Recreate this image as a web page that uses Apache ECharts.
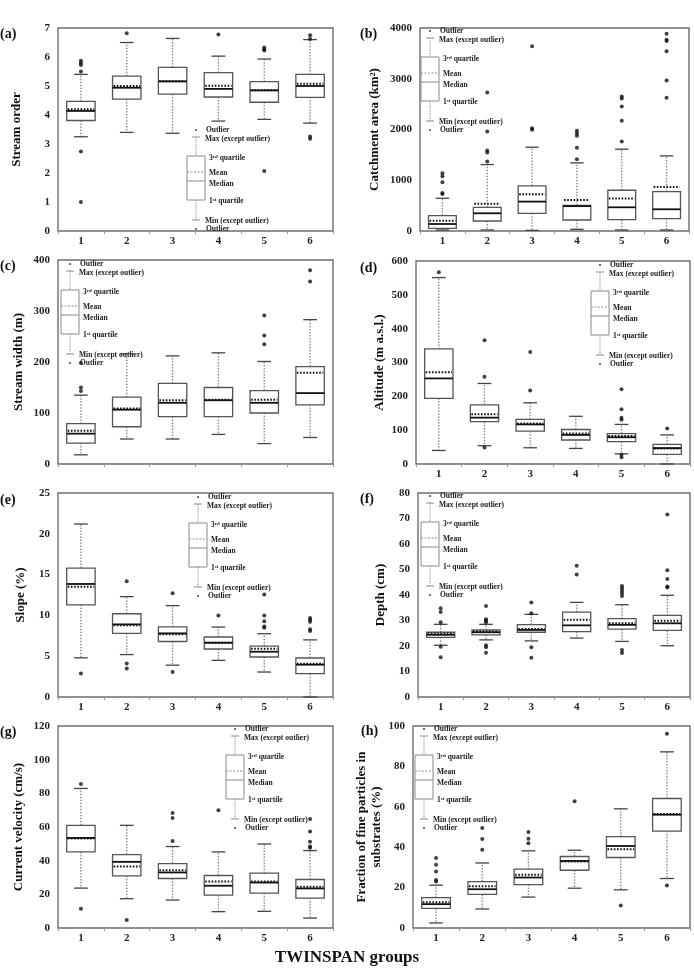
<!DOCTYPE html>
<html>
<head>
<meta charset="utf-8">
<script src="https://cdn.jsdelivr.net/npm/echarts@6/dist/echarts.min.js"></script>
<style>
  html, body { margin: 0; padding: 0; background: #fff; }
  #chart { width: 694px; height: 970px; }
</style>
</head>
<body>
<div id="chart"></div>
<script>
const groups = ['1', '2', '3', '4', '5', '6'];

// box rows: [min (except outlier), 1st quartile, median, 3rd quartile, max (except outlier)]
const orderBox = [[3.25, 3.81, 4.14, 4.47, 5.40], [3.40, 4.55, 4.94, 5.34, 6.50], [3.37, 4.72, 5.16, 5.64, 6.64],
                  [3.79, 4.62, 4.90, 5.46, 6.03], [3.85, 4.44, 4.85, 5.15, 5.93], [3.72, 4.61, 5.00, 5.40, 6.60]];
const orderMean = [4.20, 5.00, 5.16, 5.01, 4.85, 5.08];
const orderOut = [[0, 5.87], [0, 5.79], [0, 5.72], [0, 5.50], [0, 2.74], [0, 1.00], [1, 6.82], [3, 6.78],
                  [4, 6.33], [4, 6.27], [4, 6.22], [4, 2.07], [5, 6.75], [5, 6.62], [5, 3.26], [5, 3.18]];

const areaBox = [[20, 53, 138, 303, 645], [20, 197, 349, 467, 1309], [13, 349, 579, 888, 1651],
                 [33, 217, 490, 505, 1342], [20, 224, 467, 803, 1612], [20, 243, 428, 776, 1480]];
const areaMean = [204, 539, 724, 612, 638, 868];
const areaOut = [[0, 1140], [0, 1080], [0, 960], [0, 750], [0, 730], [1, 2730], [1, 1960], [1, 1585], [1, 1546], [1, 1368],
                 [2, 3638], [2, 2026], [2, 1993], [3, 1973], [3, 1928], [3, 1875], [3, 1638], [3, 1414],
                 [4, 2651], [4, 2612], [4, 2454], [4, 2171], [4, 1763], [5, 3888], [5, 3770], [5, 3743], [5, 3540], [5, 2967], [5, 2625]];

const widthBox = [[18, 41, 59.5, 79, 135], [49, 73, 106.5, 131, 216], [49, 93, 120, 158, 212],
                  [58, 93, 125, 150, 218], [40, 100, 120, 144, 201], [52, 116, 139, 191, 283]];
const widthMean = [65, 109, 125, 126, 126, 179];
const widthOut = [[0, 198], [0, 150], [0, 143], [4, 291], [4, 252], [4, 235], [5, 380], [5, 358]];

const altBox = [[40, 194, 253, 340, 551], [54, 125, 137, 175, 238], [48, 97, 117, 132, 181],
                [46, 71, 86, 102, 141], [30, 66, 79, 90, 117], [0, 28.5, 47, 58, 86]];
const altMean = [271, 147, 120, 90, 83, 46];
const altOut = [[0, 567], [1, 366], [1, 258], [1, 49], [2, 331], [2, 217],
                [4, 221], [4, 162], [4, 137], [4, 131], [4, 27], [4, 20], [5, 105]];

const slopeBox = [[4.8, 11.3, 13.85, 15.8, 21.2], [5.2, 7.8, 8.9, 10.2, 12.3], [3.9, 6.8, 7.8, 8.6, 11.2],
                  [4.49, 5.88, 6.65, 7.35, 8.57], [3.06, 4.9, 5.55, 6.24, 7.76], [0, 2.86, 3.96, 4.78, 7.0]];
const slopeMean = [13.5, 8.8, 7.7, 6.65, 5.9, 4.08];
const slopeOut = [[0, 2.87], [1, 14.2], [1, 4.1], [1, 3.5], [2, 12.7], [2, 3.06], [3, 10.0],
                  [4, 12.57], [4, 10.0], [4, 9.27], [4, 8.65], [4, 8.5], [5, 9.67], [5, 9.47], [5, 9.22], [5, 8.29], [5, 8.08]];

const depthBox = [[20.3, 23.4, 24.4, 25.4, 28.5], [22.4, 24.4, 25.4, 26.3, 28.5], [22, 25.4, 26.3, 28.4, 32.4],
                  [23.1, 25.6, 28.1, 33.3, 37.1], [21.8, 26.6, 28.3, 30.7, 36.2], [20.1, 26.1, 28.9, 32, 39.9]];
const depthMean = [24.8, 25.8, 26.7, 30.3, 28.9, 29.9];
const depthOut = [[0, 34.8], [0, 33.3], [0, 29.3], [0, 19.7], [0, 15.6],
                  [1, 35.7], [1, 30.5], [1, 29.9], [1, 29.3], [1, 20.3], [1, 19.5], [1, 17.4],
                  [2, 37.1], [2, 32.8], [2, 19.5], [2, 15.4], [3, 51.5], [3, 48],
                  [4, 43.5], [4, 42.6], [4, 41.7], [4, 40.7], [4, 39.6], [4, 18.4], [4, 17.3],
                  [5, 71.6], [5, 49.7], [5, 46.3], [5, 43.3], [5, 42.9]];

const velBox = [[23.7, 45.2, 53.5, 61, 82.9], [17.4, 31, 39.3, 43.6, 61], [16.6, 29.4, 33, 38.3, 48.4],
                [9.7, 19.5, 25.1, 31.2, 45.2], [9.9, 20.7, 27, 32.6, 49.9], [5.9, 17.8, 23.5, 28.8, 46]];
const velMean = [53.1, 36.5, 34.3, 27.6, 27.6, 24.5];
const velOut = [[0, 85.5], [0, 11.4], [1, 4.7], [2, 68.3], [2, 65.3], [2, 51.7], [3, 70],
                [5, 64.7], [5, 57.4], [5, 51.3], [5, 48.4], [5, 47.6]];

const fineBox = [[2.5, 9.7, 11.8, 15, 21.2], [9.4, 16.6, 19.2, 23, 32.2], [15.3, 21.5, 25, 29.1, 38.2],
                 [19.7, 28.6, 33.2, 35.4, 38.5], [18.9, 34.9, 40.6, 45.2, 59], [24.5, 48, 56.1, 64.1, 87.2]];
const fineMean = [12.7, 20.7, 26.3, 32.9, 39, 56.4];
const fineOut = [[0, 34.7], [0, 31.3], [0, 28], [0, 23.8], [0, 23], [1, 49.5], [1, 44.1], [1, 38.7],
                 [2, 47.5], [2, 44.2], [2, 41.9], [3, 62.8], [4, 11.2], [5, 96.2], [5, 21]];

const SERIF = '"Liberation Serif", "Times New Roman", serif';

const panels = [
  { tag: '(a)', title: 'Stream order', box: orderBox, mean: orderMean, out: orderOut, max: 7, step: 1,
    grid: [58, 28, 275, 203], gap: 34, key: [196, 130], tagAt: [0, 34] },
  { tag: '(b)', title: 'Catchment area (km²)', box: areaBox, mean: areaMean, out: areaOut, max: 4000, step: 1000,
    grid: [420, 28, 269, 203], gap: 38, key: [430, 31], tagAt: [360, 34] },
  { tag: '(c)', title: 'Stream width (m)', box: widthBox, mean: widthMean, out: widthOut, max: 400, step: 100,
    grid: [58, 260, 275, 204], gap: 32, key: [70, 264], tagAt: [0, 266], noX: true },
  { tag: '(d)', title: 'Altitude (m a.s.l.)', box: altBox, mean: altMean, out: altOut, max: 600, step: 100,
    grid: [416, 261, 274, 203], gap: 29, key: [600, 265], tagAt: [360, 268] },
  { tag: '(e)', title: 'Slope (%)', box: slopeBox, mean: slopeMean, out: slopeOut, max: 25, step: 5,
    grid: [58, 493, 275, 204], gap: 30, key: [198, 497], tagAt: [0, 500] },
  { tag: '(f)', title: 'Depth (cm)', box: depthBox, mean: depthMean, out: depthOut, max: 80, step: 10,
    grid: [418, 493, 272, 204], gap: 30, key: [430, 496], tagAt: [360, 499] },
  { tag: '(g)', title: 'Current velocity (cm/s)', box: velBox, mean: velMean, out: velOut, max: 120, step: 20,
    grid: [58, 726, 275, 202], gap: 32, key: [235, 729], tagAt: [0, 732] },
  { tag: '(h)', title: 'Fraction of fine particles in\nsubstrates (%)', box: fineBox, mean: fineMean, out: fineOut, max: 100, step: 20,
    grid: [413, 726, 277, 202], gap: 22, key: [424, 729], tagAt: [361, 731] }
];

function drawBox(params, api) {
  const i = api.value(0);
  const x = api.coord([i, 0])[0];
  const band = api.size([1, 0])[0];
  const half = band * 0.31;
  const cap = band * 0.15;
  const y = k => api.coord([i, api.value(k)])[1];
  const yMin = y(1), yQ1 = y(2), yMed = y(3), yQ3 = y(4), yMax = y(5), yMean = y(6);
  const seg = (x1, y1, x2, y2, style) => ({ type: 'line', shape: { x1, y1, x2, y2 }, style });
  const whisker = { stroke: '#8c8c8c', lineWidth: 1.4, lineDash: [1.5, 1.5] };
  const capLine = { stroke: '#444', lineWidth: 1.3 };
  return {
    type: 'group',
    children: [
      seg(x, yQ3, x, yMax, whisker),
      seg(x, yQ1, x, yMin, whisker),
      seg(x - cap, yMax, x + cap, yMax, capLine),
      seg(x - cap, yMin, x + cap, yMin, capLine),
      { type: 'rect', shape: { x: x - half, y: yQ3, width: 2 * half, height: yQ1 - yQ3 },
        style: { fill: '#fff', stroke: '#555', lineWidth: 1.3 } },
      seg(x - half, yMed, x + half, yMed, { stroke: '#111', lineWidth: 1.8 }),
      seg(x - half + 1, yMean, x + half - 1, yMean, { stroke: '#111', lineWidth: 2, lineDash: [1.6, 1.6] })
    ]
  };
}

const keyRich = {
  n: { fontFamily: SERIF, fontWeight: 'bold', fontSize: 7.5, fill: '#222' },
  s: { fontFamily: SERIF, fontWeight: 'bold', fontSize: 5, fill: '#222', verticalAlign: 'top' }
};

// the little box-plot key drawn inside each panel
function keyGlyph(cx, top) {
  const gray = '#8a8a8a';
  const seg = (x1, y1, x2, y2, dash) => ({ type: 'line', shape: { x1, y1, x2, y2 },
    style: { stroke: gray, lineWidth: 1, lineDash: dash || null } });
  const dot = yy => ({ type: 'circle', shape: { cx: 0, cy: yy, r: 1 }, style: { fill: '#444' } });
  const label = (x, yy, text) => ({ type: 'text', x, y: yy,
    style: { text, rich: keyRich, verticalAlign: 'middle', align: 'left' } });
  return {
    type: 'group', x: cx, y: top, silent: true,
    children: [
      dot(0),
      seg(-4, 7, 4, 7),
      seg(0, 7, 0, 26, [1.2, 1.2]),
      { type: 'rect', shape: { x: -9, y: 26, width: 18, height: 44 }, style: { fill: '#fff', stroke: gray, lineWidth: 1 } },
      seg(-9, 42, 9, 42, [2, 1.5]),
      seg(-9, 51, 9, 51),
      seg(0, 70, 0, 90, [1.2, 1.2]),
      seg(-4, 90, 4, 90),
      dot(99),
      label(10, 0, '{n|Outlier}'),
      label(9, 9, '{n|Max (except outlier)}'),
      label(13, 28, '{n|3}{s|rd}{n| quartile}'),
      label(13, 43.5, '{n|Mean}'),
      label(13, 54, '{n|Median}'),
      label(13, 71.5, '{n|1}{s|st}{n| quartile}'),
      label(9, 91.5, '{n|Min (except outlier)}'),
      label(10, 99.5, '{n|Outlier}')
    ]
  };
}

const grids = [], xAxes = [], yAxes = [], series = [], graphics = [];

panels.forEach((p, k) => {
  grids.push({ left: p.grid[0], top: p.grid[1], width: p.grid[2], height: p.grid[3],
    show: true, borderColor: '#6e6e6e', borderWidth: 1.4, backgroundColor: 'transparent' });
  xAxes.push({
    type: 'category', gridIndex: k, data: groups,
    axisLine: { show: false },
    axisTick: { show: true, length: 3, lineStyle: { color: '#999' } },
    axisLabel: { show: !p.noX, margin: 5, color: '#222', fontFamily: SERIF, fontWeight: 'bold', fontSize: 11 }
  });
  yAxes.push({
    type: 'value', gridIndex: k, min: 0, max: p.max, interval: p.step,
    name: p.title, nameLocation: 'middle', nameGap: p.gap,
    nameTextStyle: { color: '#111', fontFamily: SERIF, fontWeight: 'bold', fontSize: 13, lineHeight: 15 },
    axisLine: { show: false }, axisTick: { show: false }, splitLine: { show: false },
    axisLabel: { margin: 8, color: '#222', fontFamily: SERIF, fontWeight: 'bold', fontSize: 11,
      formatter: v => String(v) }
  });
  series.push({
    type: 'custom', xAxisIndex: k, yAxisIndex: k, renderItem: drawBox,
    encode: { x: 0, y: [1, 2, 3, 4, 5, 6] },
    data: p.box.map((b, i) => [i].concat(b, [p.mean[i]])), z: 2
  });
  series.push({
    type: 'scatter', xAxisIndex: k, yAxisIndex: k, data: p.out,
    symbol: 'circle', symbolSize: 4, itemStyle: { color: '#111' }, z: 3
  });
  graphics.push(keyGlyph(p.key[0], p.key[1]));
  graphics.push({ type: 'text', x: p.tagAt[0], y: p.tagAt[1],
    style: { text: p.tag, fill: '#111', font: 'bold 14px ' + SERIF, verticalAlign: 'middle' } });
});

graphics.push({ type: 'text', x: 347, y: 958,
  style: { text: 'TWINSPAN groups', fill: '#111', font: 'bold 17px ' + SERIF, align: 'center', verticalAlign: 'middle' } });

const chart = echarts.init(document.getElementById('chart'), null, { renderer: 'canvas' });
chart.setOption({
  animation: false,
  backgroundColor: '#fff',
  grid: grids,
  xAxis: xAxes,
  yAxis: yAxes,
  series: series,
  graphic: graphics
});
</script>
</body>
</html>
